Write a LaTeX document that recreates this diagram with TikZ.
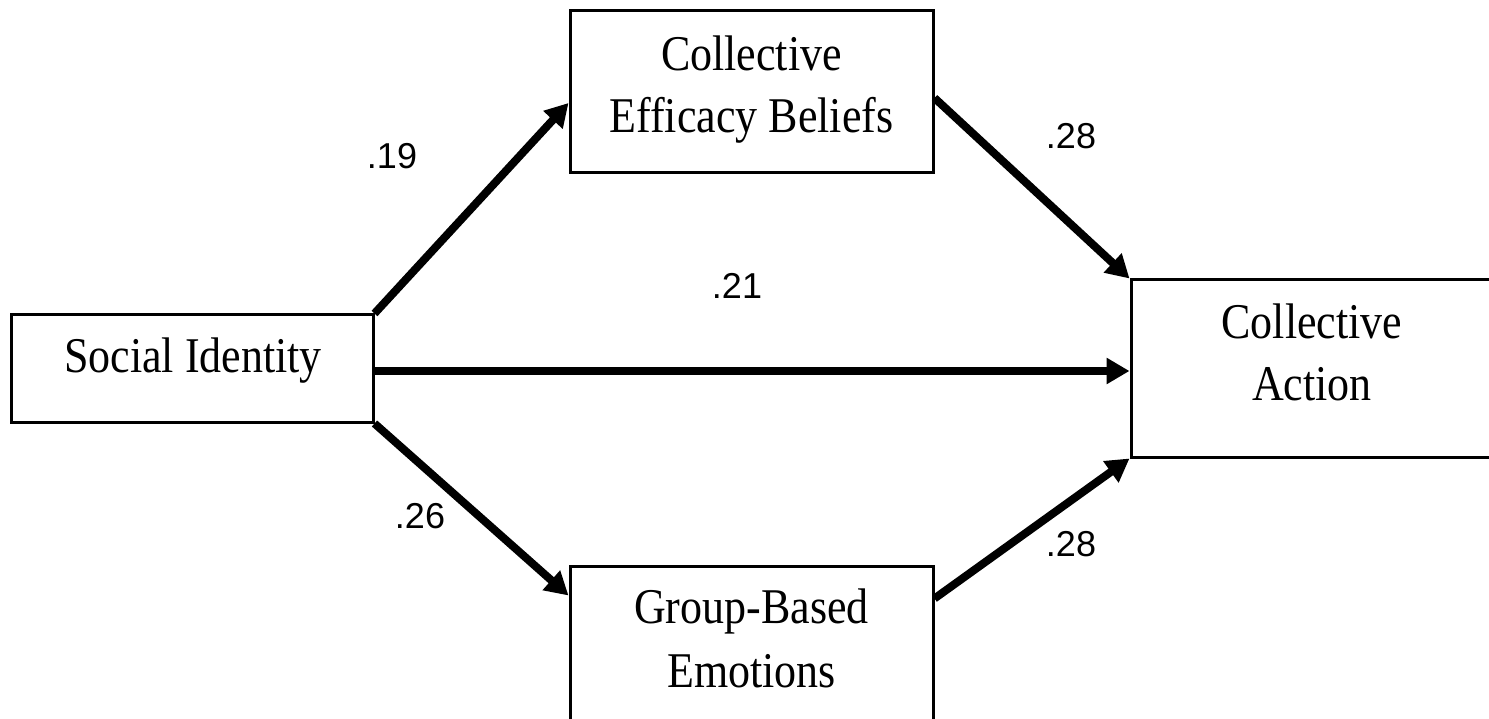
\documentclass[tikz,border=0pt]{standalone}
\usepackage{fontspec}
\setmainfont{Liberation Serif}
\newfontfamily\boxfont[FakeStretch=0.88]{Liberation Serif}
\newfontfamily\labelfont{Liberation Sans}
\usetikzlibrary{arrows.meta}
\tikzset{
  varbox/.style={draw=black, line width=3pt, fill=white, inner sep=0pt},
  boxtext/.style={anchor=base, inner sep=0pt, font=\boxfont\fontsize{50}{62}\selectfont},
  path/.style={line width=8pt, -{Triangle[length=23pt, width=25pt]}},
  coef/.style={inner sep=0pt, font=\labelfont\fontsize{36}{40}\selectfont}
}
\begin{document}
\begin{tikzpicture}[x=1pt, y=-1pt]
\useasboundingbox (0,0) rectangle (1489,719);
\clip (0,0) rectangle (1489,719);
\fill[white] (0,0) rectangle (1489,719);

% variables of the model
\node[varbox, minimum width=362pt, minimum height=107pt] (si) at (192,368.5) {};
\node[varbox, minimum width=363pt, minimum height=162pt] (ceb) at (751.5,92) {};
\node[varbox, minimum width=363pt, minimum height=178pt] (gbe) at (751.5,655) {};
\node[varbox, minimum width=362pt, minimum height=177pt] (ca) at (1312,368.5) {};

% their names
\node[boxtext] (si-t) at (193,373) {Social Identity};
\node[boxtext] (ceb-t1) at (751.5,71) {Collective};
\node[boxtext] (ceb-t2) at (751.5,133) {Efficacy Beliefs};
\node[boxtext] (gbe-t1) at (751.5,623) {Group-Based};
\node[boxtext] (gbe-t2) at (751.5,687) {Emotions};
\node[boxtext] (ca-t1) at (1312,338) {Collective};
\node[boxtext] (ca-t2) at (1312,400) {Action};

% structural paths
\draw[path] (si.north east) -- ([yshift=-11pt]ceb.west);
\draw[path] ([yshift=-6pt]ceb.east) -- (ca.north west);
\draw[path] ([yshift=-2.5pt]si.east) -- ([yshift=-2.5pt]si.east -| ca.west);
\draw[path] (si.south east) -- ([yshift=-31pt]gbe.north west);
\draw[path] ([yshift=-34pt]gbe.north east) -- (ca.south west);

% path coefficients
\node[coef] (c1) at (392,156) {.19};
\node[coef] (c2) at (1071,136) {.28};
\node[coef] (c3) at (737,286) {.21};
\node[coef] (c4) at (420,516) {.26};
\node[coef] (c5) at (1071,544) {.28};
\end{tikzpicture}
\end{document}
